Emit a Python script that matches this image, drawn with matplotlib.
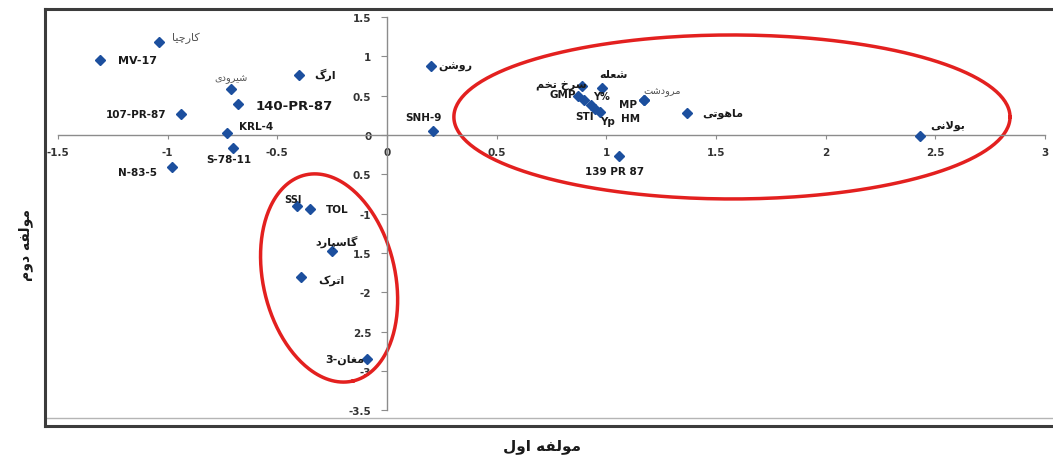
import numpy as np
import matplotlib
matplotlib.use('Agg')
import matplotlib.pyplot as plt

# --- tiny persian shaper (matplotlib has no arabic shaping) ---
RIGHT_ONLY = set('\u0627\u0622\u062f\u0630\u0631\u0632\u0698\u0648')
FORMS = {
    '\u0627': (0xFE8D, 0xFE8E, 0xFE8D, 0xFE8E),
    '\u0628': (0xFE8F, 0xFE90, 0xFE91, 0xFE92),
    '\u067e': (0xFB56, 0xFB57, 0xFB58, 0xFB59),
    '\u062a': (0xFE95, 0xFE96, 0xFE97, 0xFE98),
    '\u0686': (0xFB7A, 0xFB7B, 0xFB7C, 0xFB7D),
    '\u062e': (0xFEA5, 0xFEA6, 0xFEA7, 0xFEA8),
    '\u062f': (0xFEA9, 0xFEAA, 0xFEA9, 0xFEAA),
    '\u0631': (0xFEAD, 0xFEAE, 0xFEAD, 0xFEAE),
    '\u0632': (0xFEAF, 0xFEB0, 0xFEAF, 0xFEB0),
    '\u0633': (0xFEB1, 0xFEB2, 0xFEB3, 0xFEB4),
    '\u0634': (0xFEB5, 0xFEB6, 0xFEB7, 0xFEB8),
    '\u0639': (0xFEC9, 0xFECA, 0xFECB, 0xFECC),
    '\u063a': (0xFECD, 0xFECE, 0xFECF, 0xFED0),
    '\u0641': (0xFED1, 0xFED2, 0xFED3, 0xFED4),
    '\u06a9': (0xFB8E, 0xFB8F, 0xFB90, 0xFB91),
    '\u0643': (0xFB8E, 0xFB8F, 0xFB90, 0xFB91),
    '\u06af': (0xFB92, 0xFB93, 0xFB94, 0xFB95),
    '\u0644': (0xFEDD, 0xFEDE, 0xFEDF, 0xFEE0),
    '\u0645': (0xFEE1, 0xFEE2, 0xFEE3, 0xFEE4),
    '\u0646': (0xFEE5, 0xFEE6, 0xFEE7, 0xFEE8),
    '\u0647': (0xFEE9, 0xFEEA, 0xFEEB, 0xFEEC),
    '\u0648': (0xFEED, 0xFEEE, 0xFEED, 0xFEEE),
    '\u06cc': (0xFBFC, 0xFBFD, 0xFBFE, 0xFBFF),
    '\u064a': (0xFBFC, 0xFBFD, 0xFBFE, 0xFBFF),
}


def fa(text):
    if not any(c in FORMS for c in text):
        return text
    out = []
    i = 0
    while i < len(text):
        c = text[i]
        if c not in FORMS:
            out.append(c)
            i += 1
            continue
        prev = text[i - 1] if i > 0 else ''
        join_prev = prev in FORMS and prev not in RIGHT_ONLY
        if c == '\u0644' and i + 1 < len(text) and text[i + 1] == '\u0627':
            out.append('\uFEFC' if join_prev else '\uFEFB')
            i += 2
            continue
        nxt = text[i + 1] if i + 1 < len(text) else ''
        join_next = c not in RIGHT_ONLY and nxt in FORMS
        f = FORMS[c]
        if join_prev and join_next:
            g = f[3]
        elif join_prev:
            g = f[1]
        elif join_next:
            g = f[2]
        else:
            g = f[0]
        out.append(chr(g))
        i += 1
    return ''.join(reversed(out))


# --- data ---
names = ['کارچیا', 'MV-17', 'شیرودی', 'ارگ', '140-PR-87', '107-PR-87', 'KRL-4',
         'S-78-11', 'N-83-5', 'روشن', 'SNH-9', 'سرخ تخم', 'شعله', 'GMP', 'Y%',
         'STI', 'Yp', 'HM', 'MP', 'مرودشت', 'ماهوتی', '139 PR 87', 'بولانی',
         'SSI', 'TOL', 'گاسپارد', 'اترک', 'مغان-3']
pc1 = [-1.04, -1.31, -0.71, -0.40, -0.68, -0.94, -0.73,
       -0.70, -0.98, 0.20, 0.21, 0.89, 0.98, 0.87, 0.90,
       0.93, 0.95, 0.97, 1.17, 1.17, 1.37, 1.06, 2.43,
       -0.41, -0.35, -0.25, -0.39, -0.09]
pc2 = [1.18, 0.95, 0.58, 0.76, 0.39, 0.27, 0.03,
       -0.17, -0.41, 0.88, 0.05, 0.62, 0.60, 0.50, 0.45,
       0.38, 0.33, 0.29, 0.44, 0.44, 0.28, -0.27, -0.01,
       -0.90, -0.94, -1.47, -1.80, -2.85]

x_ticks = [-1.5, -1, -0.5, 0, 0.5, 1, 1.5, 2, 2.5, 3]
x_ticklabels = ['-1.5', '-1', '-0.5', '0', '0.5', '1', '1.5', '2', '2.5', '3']
y_ticks = [-3.5, -3, -2.5, -2, -1.5, -1, -0.5, 0, 0.5, 1, 1.5]
y_ticklabels = ['-3.5', '-3', '2.5', '-2', '1.5', '-1', '0.5', '0', '0.5', '1', '1.5']

# label offsets in pixels (dx, dy up), alignment, size, bold
label_style = {
    'کارچیا': (13, 5, 'left', 8, False),
    'MV-17': (18, 0, 'left', 8, True),
    'شیرودی': (0, 11, 'center', 7, False),
    'ارگ': (15, 1, 'left', 8, True),
    '140-PR-87': (18, -1, 'left', 9.5, True),
    '107-PR-87': (-14, 0, 'right', 7.5, True),
    'KRL-4': (12, 7, 'left', 7.5, True),
    'S-78-11': (-5, -11, 'center', 7.5, True),
    'N-83-5': (-15, -5, 'right', 7.5, True),
    'روشن': (8, 0, 'left', 8, True),
    'SNH-9': (-10, 14, 'center', 7.5, True),
    'سرخ تخم': (4, 1, 'right', 8, True),
    'شعله': (12, 14, 'center', 8, True),
    'GMP': (-2, 2, 'right', 7.5, True),
    'Y%': (17, 4, 'center', 7, True),
    'STI': (-6, -11, 'center', 7.5, True),
    'Yp': (12, -12, 'center', 7.5, True),
    'HM': (31, -6, 'center', 7.5, True),
    'MP': (-16, -4, 'center', 7.5, True),
    'مرودشت': (19, 9, 'center', 7, False),
    'ماهوتی': (15, 0, 'left', 8, True),
    '139 PR 87': (-5, -15, 'center', 7.5, True),
    'بولانی': (10, 11, 'left', 8, True),
    'SSI': (-4, 7, 'center', 7, True),
    'TOL': (16, 0, 'left', 7.5, True),
    'گاسپارد': (4, 10, 'center', 8, True),
    'اترک': (17, -3, 'left', 8, True),
    'مغان-3': (-3, 0, 'right', 8, True),
}

# hand drawn groups: centre, two semi-axis vectors (data units)
group1 = ((1.573, 0.229), (1.268, 0.0), (0.0, 1.042))
group2 = ((-0.264, -1.817), (0.109, -1.309), (0.293, 0.191))

fig = plt.figure(figsize=(10.53, 4.56), dpi=100)
rect = [45 / 1053, 29 / 456, 1 - 45 / 1053, 417 / 456]

fr = fig.add_axes(rect)
fr.set_xticks([])
fr.set_yticks([])
for side in ['left', 'top', 'bottom']:
    fr.spines[side].set_linewidth(2.2)
    fr.spines[side].set_color('#3c3c3c')
fr.spines['right'].set_visible(False)
fr.axhline(0.019, color='#b5b5b5', lw=1)

ax = fig.add_axes(rect)
ax.patch.set_alpha(0)
ax.set_xlim(-1.5595, 3.037)
ax.set_ylim(-3.698, 1.601)
ax.spines['left'].set_position(('data', 0))
ax.spines['bottom'].set_position(('data', 0))
ax.spines['left'].set_bounds(-3.5, 1.5)
ax.spines['bottom'].set_bounds(-1.5, 3)
for side in ['left', 'bottom']:
    ax.spines[side].set_color('#8c8c8c')
    ax.spines[side].set_linewidth(1)
ax.spines['right'].set_visible(False)
ax.spines['top'].set_visible(False)
ax.set_xticks(x_ticks)
ax.set_xticklabels(x_ticklabels)
ax.set_yticks(y_ticks)
ax.set_yticklabels(y_ticklabels)
ax.tick_params(axis='x', direction='out', length=3, width=0.8, color='#8c8c8c',
               pad=6, labelsize=7.5, labelcolor='#333333')
ax.tick_params(axis='y', direction='out', length=4.3, width=0.8, color='#8c8c8c',
               pad=7, labelsize=7.5, labelcolor='#333333')
for t in ax.get_xticklabels() + ax.get_yticklabels():
    t.set_fontweight('bold')

ax.plot(pc1, pc2, linestyle='none', marker='D', ms=5, color='#1c4f9e', zorder=3)

for name, x, y in zip(names, pc1, pc2):
    dx, dy, ha, size, bold = label_style[name]
    ax.annotate(fa(name), (x, y), xytext=(dx * 0.72, dy * 0.72),
                textcoords='offset points', ha=ha, va='center', fontsize=size,
                fontweight='bold' if bold else 'normal',
                color='#1a1a1a' if bold else '#555555', zorder=4)

t = np.linspace(0, 2 * np.pi, 300)
for (cx, cy), u, v in [group1, group2]:
    ax.plot(cx + u[0] * np.cos(t) + v[0] * np.sin(t),
            cy + u[1] * np.cos(t) + v[1] * np.sin(t),
            color='#e3201f', lw=2.5, zorder=2)

fig.text(542 / 1053, 1 - 447 / 456, fa('مولفه اول'), ha='center', va='center',
         fontsize=11, fontweight='bold', color='#1a1a1a')
fig.text(26 / 1053, 1 - 245 / 456, fa('مولفه دوم'), ha='center', va='center',
         rotation=90, fontsize=10, fontweight='bold', color='#1a1a1a')

fig.savefig('out.png', dpi=100)
